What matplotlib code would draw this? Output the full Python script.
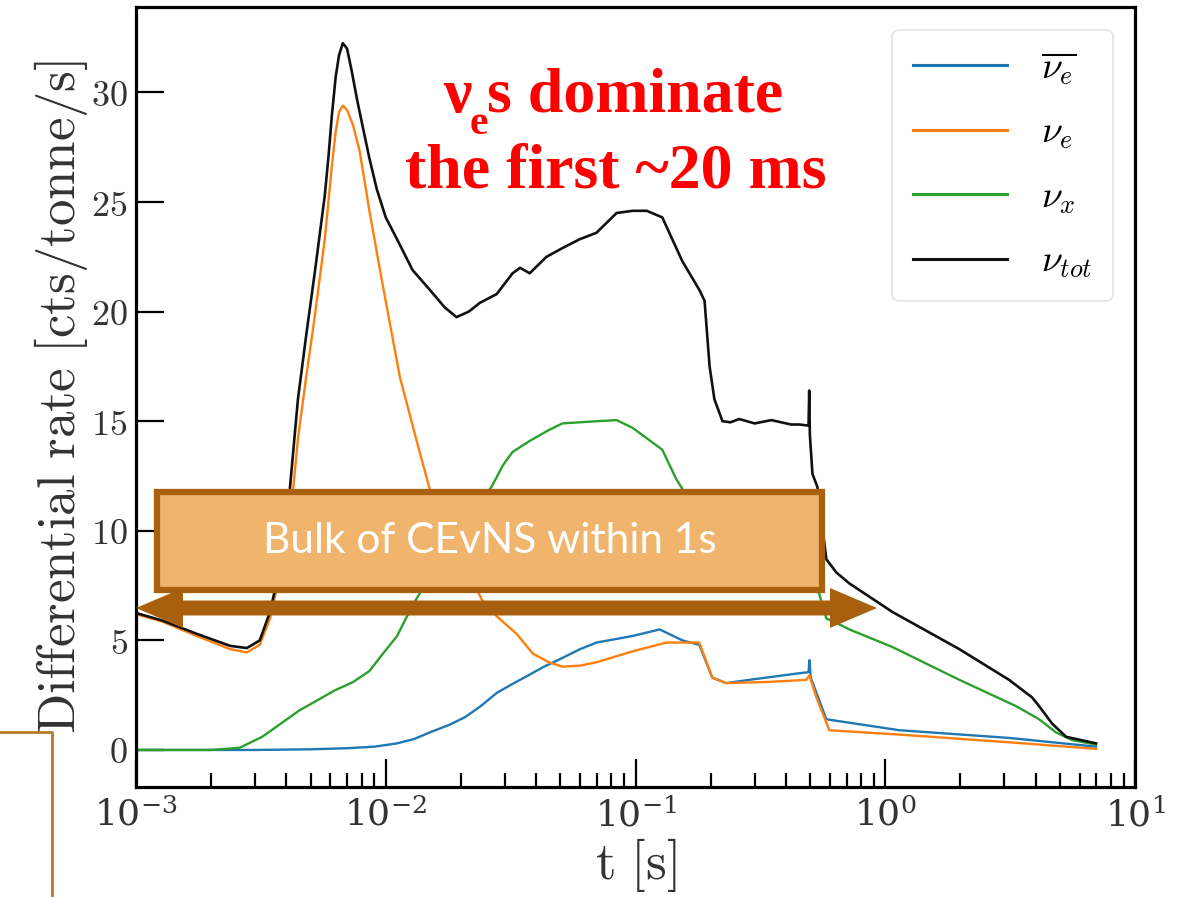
import matplotlib.pyplot as plt
from matplotlib.patches import Rectangle, Polygon
from matplotlib.lines import Line2D
from matplotlib.ticker import LogLocator, FuncFormatter, NullFormatter, MultipleLocator

plt.rcParams['mathtext.fontset'] = 'cm'
plt.rcParams['font.family'] = ['DejaVu Serif']

# time [s] and differential rate [cts/tonne/s] for each flavour
t_nuebar = [0.001, 0.003, 0.005, 0.007, 0.009, 0.0111, 0.013, 0.015, 0.018, 0.0208,
            0.024, 0.0278, 0.032, 0.0365, 0.043, 0.051, 0.06, 0.0698, 0.0973, 0.125,
            0.154, 0.18, 0.203, 0.231, 0.286, 0.453, 0.493, 0.497, 0.503, 0.581,
            1.14, 3.13, 6.98]
rate_nuebar = [0.0, 0.0, 0.03, 0.08, 0.15, 0.3, 0.5, 0.8, 1.15, 1.5,
               2.0, 2.6, 3.0, 3.35, 3.8, 4.2, 4.6, 4.9, 5.2, 5.5,
               5.0, 4.8, 3.3, 3.05, 3.2, 3.5, 3.55, 4.1, 3.3, 1.4,
               0.9, 0.55, 0.15]

t_nue = [0.001, 0.00128, 0.00175, 0.00238, 0.00278, 0.00313, 0.00344, 0.0036, 0.00384, 0.00413,
         0.00445, 0.0048, 0.0052, 0.0057, 0.00608, 0.0063, 0.0065, 0.00673, 0.0070, 0.0074,
         0.00787, 0.00863, 0.00973, 0.0114, 0.0133, 0.015, 0.0192, 0.0244, 0.0278, 0.0334,
         0.0388, 0.045, 0.051, 0.06, 0.0698, 0.0973, 0.133, 0.18, 0.203, 0.231,
         0.334, 0.483, 0.497, 0.53, 0.597, 1.14, 3.13, 6.98]
rate_nue = [6.2, 5.85, 5.2, 4.6, 4.45, 4.8, 6.0, 7.0, 8.2, 10.3,
            14.2, 17.0, 19.8, 23.3, 26.6, 28.2, 29.1, 29.4, 29.2, 28.5,
            27.3, 24.5, 21.2, 17.0, 14.1, 11.9, 9.2, 6.8, 6.1, 5.3,
            4.4, 4.0, 3.8, 3.85, 4.0, 4.5, 4.9, 4.9, 3.3, 3.05,
            3.1, 3.2, 3.4, 2.4, 0.9, 0.7, 0.35, 0.05]

t_nux = [0.001, 0.002, 0.0026, 0.0032, 0.0038, 0.0045, 0.0052, 0.0062, 0.0074, 0.0086,
         0.0096, 0.0111, 0.0128, 0.015, 0.0192, 0.0238, 0.0265, 0.0295, 0.0322, 0.0377,
         0.045, 0.051, 0.07, 0.084, 0.0973, 0.128, 0.145, 0.164, 0.18, 0.2,
         0.223, 0.286, 0.334, 0.453, 0.497, 0.511, 0.535, 0.581, 0.637, 0.718,
         1.067, 1.98, 3.34, 4.13, 4.83, 5.6, 6.98]
rate_nux = [0.0, 0.0, 0.1, 0.6, 1.2, 1.8, 2.2, 2.7, 3.1, 3.6,
            4.3, 5.2, 6.6, 7.9, 9.9, 11.3, 12.0, 13.0, 13.6, 14.1,
            14.6, 14.9, 15.0, 15.05, 14.7, 13.7, 12.4, 11.4, 11.0, 10.2,
            9.3, 8.8, 8.6, 8.2, 8.0, 7.8, 7.4, 6.0, 5.8, 5.5,
            4.7, 3.2, 2.0, 1.4, 0.8, 0.45, 0.25]

t_tot = [0.001, 0.00128, 0.00175, 0.00238, 0.00278, 0.00313, 0.00344, 0.0036, 0.00384, 0.00413,
         0.00445, 0.0048, 0.0052, 0.0057, 0.0059, 0.00608, 0.0063, 0.0065, 0.00673, 0.0070,
         0.0073, 0.0077, 0.0081, 0.0086, 0.0092, 0.0100, 0.0111, 0.0128, 0.015, 0.0172,
         0.0192, 0.0215, 0.0238, 0.0278, 0.0322, 0.0345, 0.0377, 0.044, 0.051, 0.0597,
         0.0698, 0.084, 0.0973, 0.111, 0.128, 0.154, 0.18, 0.189, 0.198, 0.207,
         0.223, 0.24, 0.26, 0.30, 0.35, 0.42, 0.453, 0.493, 0.496, 0.499,
         0.511, 0.535, 0.581, 0.637, 0.718, 1.067, 1.98, 3.13, 3.87, 4.13,
         4.66, 5.30, 6.98]
rate_tot = [6.25, 5.9, 5.3, 4.75, 4.65, 5.0, 6.3, 7.3, 8.5, 11.9,
            16.0, 18.9, 21.8, 25.3, 27.1, 28.9, 30.7, 31.7, 32.25, 32.0,
            31.0, 29.6, 28.4, 27.0, 25.6, 24.3, 23.3, 21.9, 21.0, 20.2,
            19.75, 20.0, 20.4, 20.8, 21.75, 22.0, 21.75, 22.5, 22.9, 23.3,
            23.6, 24.5, 24.6, 24.6, 24.3, 22.3, 21.0, 20.5, 17.5, 16.0,
            15.0, 14.95, 15.1, 14.9, 15.05, 14.85, 14.85, 14.8, 16.4, 14.4,
            12.6, 12.0, 8.7, 8.1, 7.6, 6.3, 4.6, 3.2, 2.4, 2.0,
            1.2, 0.6, 0.3]

labels = [r'$\overline{\nu_e}$', r'$\nu_e$', r'$\nu_x$', r'$\nu_{tot}$']

W, H = 1183, 897
fig = plt.figure(figsize=(W / 100, H / 100), dpi=100)
ax = fig.add_axes([136 / W, 1 - 787 / H, 999 / W, 780 / H])

ax.plot(t_nuebar, rate_nuebar, color='#1f77b4', lw=1.7, label=labels[0])
ax.plot(t_nue, rate_nue, color='#ff7f0e', lw=1.7, label=labels[1])
ax.plot(t_nux, rate_nux, color='#2ca02c', lw=1.7, label=labels[2])
ax.plot(t_tot, rate_tot, color='#111111', lw=1.9, label=labels[3])

ax.set_xscale('log')
ax.set_xlim(1e-3, 1e1)
ax.set_ylim(-1.69, 33.9)
ax.yaxis.set_major_locator(MultipleLocator(5))
ax.yaxis.set_major_formatter(FuncFormatter(lambda v, _: f'${v:g}$'))
ax.xaxis.set_major_locator(LogLocator(base=10, numticks=10))
ax.xaxis.set_minor_locator(LogLocator(base=10, subs=range(2, 10), numticks=20))
ax.xaxis.set_minor_formatter(NullFormatter())

for s in ax.spines.values():
    s.set_linewidth(2.3)
ax.tick_params(which='major', direction='in', length=20, width=1.6,
               labelsize=26, labelcolor='#333333', pad=6)
ax.tick_params(which='minor', direction='in', length=10, width=1.6)
ax.tick_params(axis='x', which='major', pad=8)

ax.set_xlabel(r'$\mathrm{t\ [s]}$', fontsize=38, color='#333333', labelpad=2)
ax.set_ylabel(r'$\mathrm{Differential\ rate\ [cts/tonne/s]}$', fontsize=38,
              color='#333333', labelpad=1)

leg = ax.legend(loc='upper right', fontsize=27, frameon=True, fancybox=True,
                handlelength=2.5, handletextpad=0.9, labelspacing=0.75,
                borderpad=0.55, borderaxespad=0.6)
leg.get_frame().set_edgecolor('#dddddd')
leg.get_frame().set_linewidth(1.2)
for h in leg.get_lines():
    h.set_linewidth(2.2)

# annotation box
ax.add_patch(Rectangle((0.021, 0.2526), 0.666, 0.1254, transform=ax.transAxes,
                       facecolor='#F0B46C', edgecolor='#A8600E', lw=4.5, zorder=5,
                       clip_on=False))
ax.text(0.354, 0.315, 'Bulk of CEvNS within 1s', transform=ax.transAxes,
        ha='center', va='center', color='white', fontsize=30.5, family='Lato', zorder=6)

# double-headed arrow, figure pixels
x0, x1, yc = 136, 877, 608
hl, hw, sw = 47, 40, 15
pts = [(x0, yc), (x0 + hl, yc - hw / 2), (x0 + hl, yc - sw / 2), (x1 - hl, yc - sw / 2),
       (x1 - hl, yc - hw / 2), (x1, yc), (x1 - hl, yc + hw / 2), (x1 - hl, yc + sw / 2),
       (x0 + hl, yc + sw / 2), (x0 + hl, yc + hw / 2)]
fig.add_artist(Polygon([(x / W, 1 - y / H) for x, y in pts], closed=True,
                       transform=fig.transFigure, facecolor='#A8600E',
                       edgecolor='none', zorder=7))

# corner of a neighbouring frame
fig.add_artist(Line2D([0, 52 / W, 52 / W], [1 - 732 / H, 1 - 732 / H, 0],
                      transform=fig.transFigure, color='#B8782A', lw=2))

# red headline
red = dict(color='#FF0000', fontweight='bold', family='Liberation Serif')
nu = fig.text(443 / W, 1 - 112 / H, 'ν', fontsize=46, va='baseline', **red)
sub = ax.annotate('e', xy=(1, 0), xycoords=nu, xytext=(-1, -12),
                  textcoords='offset points', fontsize=30, va='bottom', ha='left', **red)
ax.annotate('s dominate', xy=(1, 0), xycoords=(sub, nu), xytext=(-1, 0),
            textcoords='offset points', fontsize=46, va='bottom', ha='left', **red)
fig.text(616 / W, 1 - 188 / H, 'the first ~20 ms', fontsize=46, ha='center',
         va='baseline', **red)

fig.savefig('out.png', dpi=100)
